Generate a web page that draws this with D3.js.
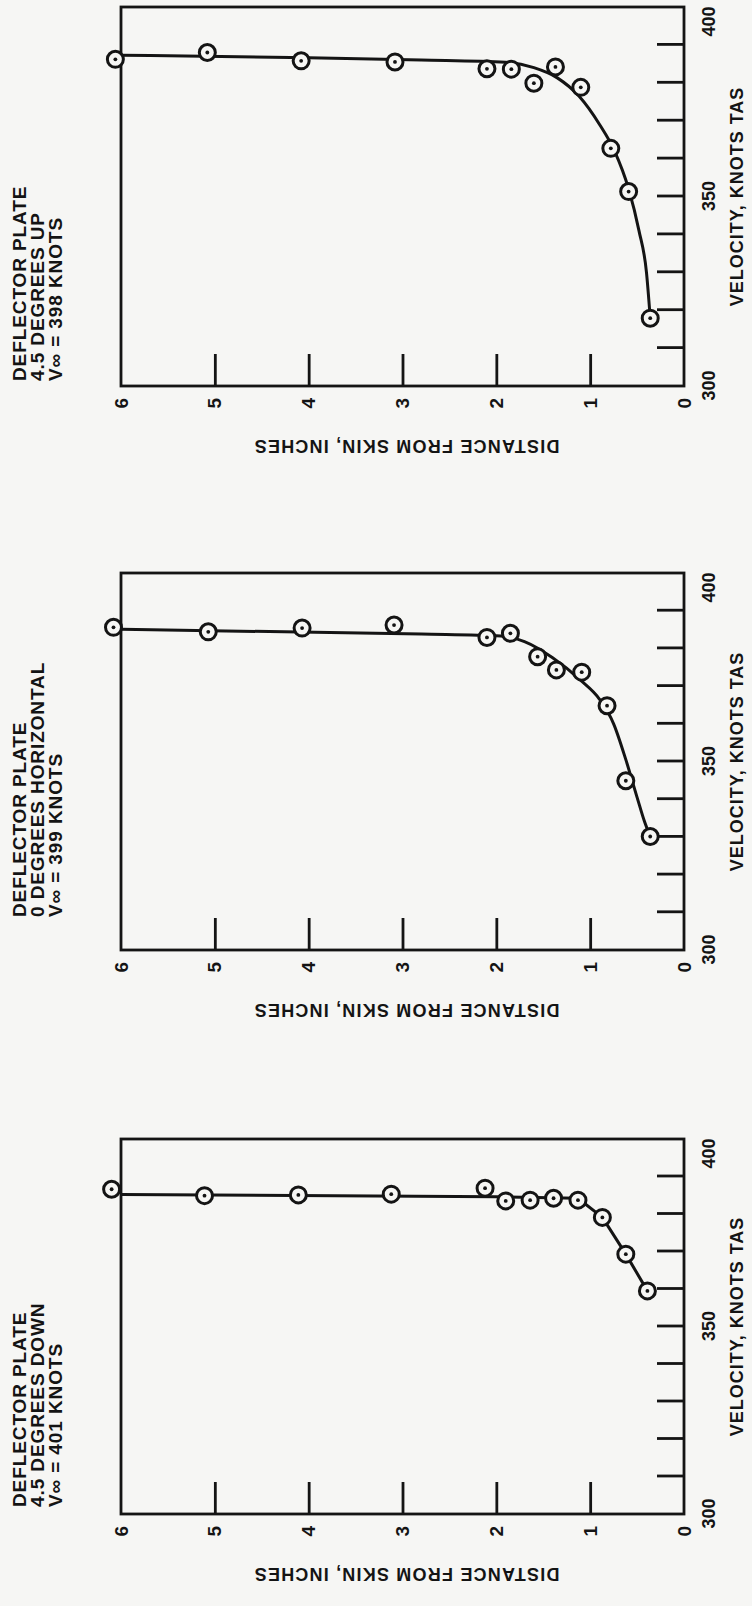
<!DOCTYPE html>
<html>
<head>
<meta charset="utf-8">
<script src="https://cdn.jsdelivr.net/npm/d3@7"></script>
<style>
  body { margin: 0; background: #f6f6f4; }
  svg { display: block; }
</style>
</head>
<body>
<svg id="drawing_region"></svg>
<script>
// panel titles (top to bottom on the page)
const titleLines = [
    ['DEFLECTOR PLATE', '4.5 DEGREES UP', 'V\u221E = 398 KNOTS'],
    ['DEFLECTOR PLATE', '0 DEGREES HORIZONTAL', 'V\u221E = 399 KNOTS'],
    ['DEFLECTOR PLATE', '4.5 DEGREES DOWN', 'V\u221E = 401 KNOTS'],
];

const distanceTicks = [0, 1, 2, 3, 4, 5, 6];
const distanceInnerTicks = [1, 2, 3, 4, 5];
const velocityTicks = [300, 350, 400];
const velocityMinorTicks = [310, 320, 330, 340, 350, 360, 370, 380, 390];

// 4.5 degrees up
const upDistance = [6.06, 5.08, 4.08, 3.08, 2.10, 1.84, 1.60, 1.37, 1.10, 0.78, 0.59, 0.36];
const upVelocity = [386.2, 388.0, 385.8, 385.5, 383.7, 383.6, 379.9, 384.2, 378.8, 362.7, 351.3, 317.9];
const upCurveDistance = [6.0, 4.0, 2.8, 1.9, 1.6, 1.35, 1.12, 0.90, 0.74, 0.59, 0.48, 0.40, 0.36];
const upCurveVelocity = [387.3, 386.6, 386.0, 385.4, 384.0, 381.3, 376.5, 369.0, 362.0, 352.0, 341.0, 330.0, 318.0];

// 0 degrees horizontal
const horizDistance = [6.08, 5.07, 4.07, 3.09, 2.10, 1.85, 1.56, 1.36, 1.09, 0.82, 0.62, 0.36];
const horizVelocity = [385.6, 384.4, 385.4, 386.2, 382.9, 384.0, 377.8, 374.3, 373.7, 364.8, 344.9, 330.1];
const horizCurveDistance = [6.0, 2.8, 1.95, 1.7, 1.4, 1.1, 0.9, 0.75, 0.62, 0.5, 0.42, 0.36];
const horizCurveVelocity = [385.1, 383.8, 383.3, 381.8, 377.5, 371.5, 366.5, 360.0, 350.5, 340.5, 334.0, 330.1];

// 4.5 degrees down
const downDistance = [6.10, 5.11, 4.11, 3.12, 2.12, 1.90, 1.64, 1.39, 1.13, 0.87, 0.62, 0.39];
const downVelocity = [386.6, 384.9, 385.1, 385.3, 386.9, 383.5, 383.7, 384.2, 383.7, 379.1, 369.3, 359.5];
const downCurveDistance = [6.0, 2.0, 1.13, 0.87, 0.62, 0.39];
const downCurveVelocity = [385.2, 384.6, 384.2, 379.1, 369.3, 359.5];

const INK = '#141414';
const PAPER = '#f6f6f4';
const FONT = '"Liberation Sans", Arial, Helvetica, sans-serif';

const svg = d3.select('#drawing_region')
    .attr('width', 752)
    .attr('height', 1606);

svg.append('rect')
    .attr('width', 752)
    .attr('height', 1606)
    .attr('fill', PAPER);

// the page is printed turned a quarter turn, so each panel is drawn
// the normal way and then rotated -90 degrees
class VelocityProfile {
    constructor(config, data) {
        this.config = config;
        this.data = data;
        this.init();
    }

    init() {
        let self = this;
        self.inner_width = self.config.length;   // velocity axis
        self.inner_height = self.config.depth;   // distance axis

        self.chart = svg.append('g')
            .attr('transform', `translate(${self.config.left}, ${self.config.bottom}) rotate(-90)`);

        self.xscale = d3.scaleLinear()
            .domain([300, 400])
            .range([0, self.inner_width]);

        self.yscale = d3.scaleLinear()
            .domain([0, 6])
            .range([self.inner_height, 0]);

        self.line = d3.line()
            .x(d => self.xscale(d.v))
            .y(d => self.yscale(d.d))
            .curve(self.config.curve);
    }

    render() {
        let self = this;

        // velocity ticks, pointing inward
        self.chart.append('g')
            .attr('transform', `translate(0, ${self.inner_height})`)
            .call(d3.axisBottom(self.xscale).tickValues(velocityMinorTicks).tickSize(-27).tickFormat(''))
            .call(g => g.select('.domain').remove())
            .call(g => g.selectAll('line').attr('stroke', INK).attr('stroke-width', 2.8));

        self.chart.append('g')
            .attr('transform', `translate(0, ${self.inner_height})`)
            .call(d3.axisBottom(self.xscale).tickValues(velocityTicks).tickSize(0).tickPadding(18))
            .call(g => g.select('.domain').remove())
            .call(g => g.selectAll('text')
                .attr('fill', INK)
                .attr('font-size', 18)
                .attr('font-weight', 'bold')
                .attr('font-family', FONT)
                .attr('text-anchor', d => d === 400 ? 'end' : 'middle'));

        // distance ticks, pointing inward
        self.chart.append('g')
            .call(d3.axisLeft(self.yscale).tickValues(distanceInnerTicks).tickSize(-32).tickFormat(''))
            .call(g => g.select('.domain').remove())
            .call(g => g.selectAll('line').attr('stroke', INK).attr('stroke-width', 2.8));

        self.chart.append('g')
            .call(d3.axisLeft(self.yscale).tickValues(distanceTicks).tickSize(0).tickPadding(12).tickFormat(d3.format('d')))
            .call(g => g.select('.domain').remove())
            .call(g => g.selectAll('text')
                .attr('fill', INK)
                .attr('font-size', 19)
                .attr('font-weight', 'bold')
                .attr('font-family', FONT));

        // frame
        self.chart.append('rect')
            .attr('width', self.inner_width)
            .attr('height', self.inner_height)
            .attr('fill', 'none')
            .attr('stroke', INK)
            .attr('stroke-width', 2.8);

        // faired curve
        self.chart.append('path')
            .datum(self.data.curve)
            .attr('d', self.line)
            .attr('fill', 'none')
            .attr('stroke', INK)
            .attr('stroke-width', 3)
            .attr('stroke-linejoin', 'round');

        // measured points
        const pts = self.chart.selectAll('.pt')
            .data(self.data.points)
            .enter()
            .append('g')
            .attr('class', 'pt')
            .attr('transform', d => `translate(${self.xscale(d.v)}, ${self.yscale(d.d)})`);

        pts.append('circle')
            .attr('r', 8)
            .attr('fill', PAPER)
            .attr('stroke', INK)
            .attr('stroke-width', 3);

        pts.append('circle')
            .attr('r', 1.9)
            .attr('fill', INK);

        // axis titles
        self.chart.append('text')
            .attr('x', self.inner_width / 2)
            .attr('y', self.inner_height + 59)
            .attr('text-anchor', 'middle')
            .attr('font-size', 18)
            .attr('font-weight', 'bold')
            .attr('font-family', FONT)
            .attr('letter-spacing', 1)
            .attr('fill', INK)
            .text('VELOCITY, KNOTS TAS');

        self.chart.append('text')
            .attr('transform', `translate(-54, ${self.inner_height / 2 + 4}) rotate(-90)`)
            .attr('text-anchor', 'middle')
            .attr('font-size', 18)
            .attr('font-weight', 'bold')
            .attr('font-family', FONT)
            .attr('letter-spacing', 1.2)
            .attr('fill', INK)
            .text('DISTANCE FROM SKIN, INCHES');

        // panel title, top-left of the unrotated panel
        self.chart.append('g')
            .selectAll('text')
            .data(self.data.title)
            .enter()
            .append('text')
            .attr('x', self.config.titleX)
            .attr('y', (d, i) => -95 + i * 18)
            .attr('font-size', 19)
            .attr('font-weight', 'bold')
            .attr('font-family', FONT)
            .attr('letter-spacing', 0.9)
            .attr('fill', INK)
            .text(d => d);
    }
}

const zip = (ds, vs) => ds.map((d, i) => ({ d: d, v: vs[i] }));

const panels = [
    {
        config: { left: 121, bottom: 386, length: 379, depth: 563, titleX: 5, curve: d3.curveMonotoneY },
        data: { title: titleLines[0], points: zip(upDistance, upVelocity), curve: zip(upCurveDistance, upCurveVelocity) }
    },
    {
        config: { left: 121, bottom: 950, length: 377, depth: 563, titleX: 33, curve: d3.curveMonotoneY },
        data: { title: titleLines[1], points: zip(horizDistance, horizVelocity), curve: zip(horizCurveDistance, horizCurveVelocity) }
    },
    {
        config: { left: 121, bottom: 1514, length: 375, depth: 563, titleX: 7, curve: d3.curveLinear },
        data: { title: titleLines[2], points: zip(downDistance, downVelocity), curve: zip(downCurveDistance, downCurveVelocity) }
    },
];

panels.forEach(p => {
    let chart = new VelocityProfile(p.config, p.data);
    chart.render();
});
</script>
</body>
</html>
